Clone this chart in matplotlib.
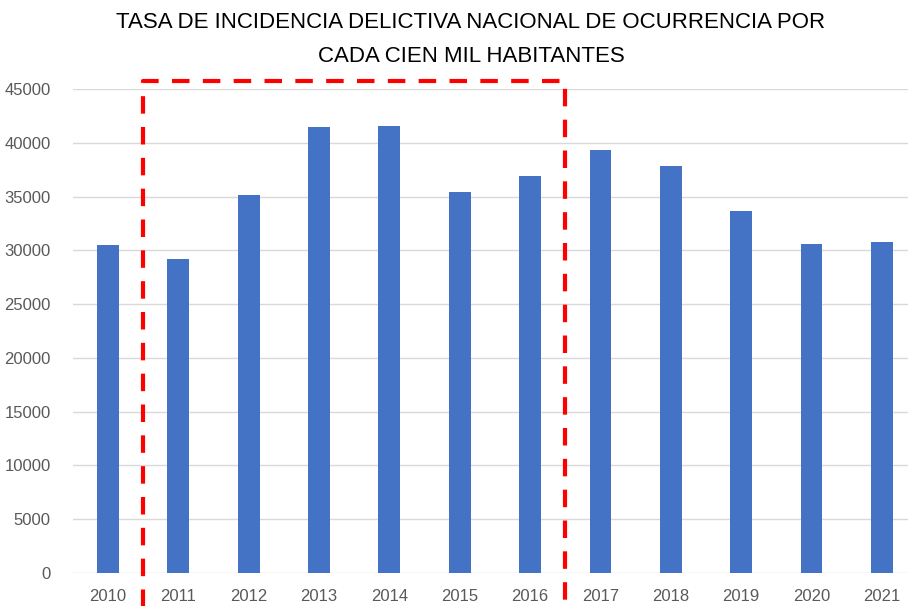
import matplotlib
matplotlib.use('Agg')
import matplotlib.pyplot as plt
import numpy as np

years = ['2010', '2011', '2012', '2013', '2014', '2015', '2016',
         '2017', '2018', '2019', '2020', '2021']
tasa = [30500, 29170, 35160, 41520, 41610, 35440, 36960,
        39350, 37830, 33640, 30600, 30780]
y_ticks = [0, 5000, 10000, 15000, 20000, 25000, 30000, 35000, 40000, 45000]

titulo_1 = 'TASA DE INCIDENCIA DELICTIVA NACIONAL DE OCURRENCIA POR'
titulo_2 = 'CADA CIEN MIL HABITANTES'

plt.rcParams['font.family'] = ['Liberation Sans', 'DejaVu Sans']

fig = plt.figure(figsize=(9.08, 6.06), dpi=100)
ax = fig.add_axes([72.8 / 908, 1 - 572.6 / 606, (917 - 72.8) / 908, (572.6 - 89.3) / 606])

x = np.arange(len(years))
ax.bar(x, tasa, width=0.31, color='#4472C4', zorder=3)

ax.set_xlim(-0.5, len(years) - 0.5)
ax.set_ylim(0, 45000)
ax.set_yticks(y_ticks)
ax.set_yticklabels([str(v) for v in y_ticks])
ax.set_xticks(x)
ax.set_xticklabels(years)
ax.grid(axis='y', color='#D9D9D9', linewidth=1, zorder=0)
for s in ['top', 'right', 'left', 'bottom']:
    ax.spines[s].set_visible(False)
ax.tick_params(axis='both', length=0, colors='#595959', labelsize=12)
ax.tick_params(axis='y', pad=16)
ax.tick_params(axis='x', pad=12)

# recuadro rojo punteado (2011-2016)
rx = [0.5, 0.5, 6.5, 6.5]
ry = [-4000, 45800, 45800, -4000]
ax.plot(rx, ry, color='#FF0000', linewidth=3, linestyle=(0, (4.2, 3.2)),
        clip_on=False, zorder=5, solid_joinstyle='miter')

# titulo en dos lineas
fig.text(471 / 908, 1 - 28 / 606, titulo_1, ha='center', va='baseline',
         fontsize=16, color='black')
fig.text(471 / 908, 1 - 62 / 606, titulo_2, ha='center', va='baseline',
         fontsize=16, color='black')

fig.savefig('out.png', dpi=100)
